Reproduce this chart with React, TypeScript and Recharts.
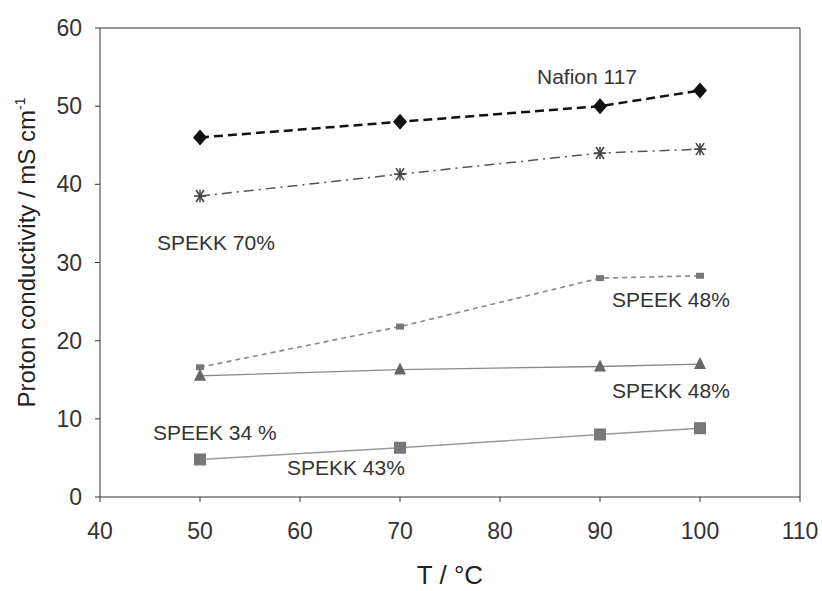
import React from "react";
import { LineChart, Line, XAxis, YAxis, ReferenceLine, ReferenceDot, Label } from "recharts";

const temps = [50, 70, 90, 100];
const nafion117 = [46, 48, 50, 52];
const spekk70 = [38.5, 41.3, 44, 44.5];
const speek48 = [16.6, 21.8, 28, 28.3];
const spekk48 = [15.5, 16.3, 16.7, 17];
const spekk43 = [4.8, 6.3, 8, 8.8];

const xTicks = [40, 50, 60, 70, 80, 90, 100, 110];
const yTicks = [0, 10, 20, 30, 40, 50, 60];

const notes = [
  { text: "Nafion 117", x: 83.7, y: 53.8 },
  { text: "SPEKK 70%", x: 45.7, y: 32.6 },
  { text: "SPEEK 48%", x: 91.2, y: 25.2 },
  { text: "SPEKK 48%", x: 91.2, y: 13.6 },
  { text: "SPEEK 34 %", x: 45.3, y: 8.2 },
  { text: "SPEKK 43%", x: 58.7, y: 3.7 },
];

const data = temps.map((t, i) => ({
  t,
  nafion: nafion117[i],
  spekk70: spekk70[i],
  speek48: speek48[i],
  spekk48: spekk48[i],
  spekk43: spekk43[i],
}));

const FONT = "'Liberation Sans', Arial, sans-serif";

const Diamond = (p: any) => (
  <path key={p.index} d={`M${p.cx},${p.cy - 8} L${p.cx + 7},${p.cy} L${p.cx},${p.cy + 8} L${p.cx - 7},${p.cy} Z`} fill="#111" />
);

const Star = (p: any) => (
  <g key={p.index} stroke="#444" strokeWidth={1.6}>
    <line x1={p.cx - 6} y1={p.cy} x2={p.cx + 6} y2={p.cy} />
    <line x1={p.cx - 4} y1={p.cy - 6} x2={p.cx + 4} y2={p.cy + 6} />
    <line x1={p.cx + 4} y1={p.cy - 6} x2={p.cx - 4} y2={p.cy + 6} />
    <line x1={p.cx} y1={p.cy - 6} x2={p.cx} y2={p.cy + 6} />
  </g>
);

const SmallSquare = (p: any) => (
  <rect key={p.index} x={p.cx - 4} y={p.cy - 3} width={8} height={6} fill="#777" />
);

const Triangle = (p: any) => (
  <path key={p.index} d={`M${p.cx},${p.cy - 7} L${p.cx + 6},${p.cy + 5} L${p.cx - 6},${p.cy + 5} Z`} fill="#666" />
);

const Square = (p: any) => (
  <rect key={p.index} x={p.cx - 6} y={p.cy - 6} width={12} height={12} fill="#777" />
);

const NoteLabel = (text: string) => (props: any) => {
  const vb = props.viewBox;
  const cx = vb.x + (vb.width || 0) / 2;
  const cy = vb.y + (vb.height || 0) / 2;
  return (
    <text x={cx} y={cy} dy="0.35em" textAnchor="start" fontSize={21} fill="#333" fontFamily={FONT}>
      {text}
    </text>
  );
};

const YTitle = (props: any) => {
  const vb = props.viewBox;
  const cy = vb.y + vb.height / 2 - 10;
  const x = 27;
  return (
    <text x={x} y={cy} transform={`rotate(-90, ${x}, ${cy})`} textAnchor="middle" dy="0.35em" fontSize={24} fill="#222" fontFamily={FONT}>
      Proton conductivity / mS cm
      <tspan dy="-10" fontSize={14}>-1</tspan>
    </text>
  );
};

export default function App() {
  const tickStyle = { fontSize: 23, fill: "#333", fontFamily: FONT };
  return (
    <div style={{ position: "absolute", left: 0, top: 0, background: "#fff" }}>
      <LineChart width={822} height={591} data={data} margin={{ top: 28, right: 22, left: 0, bottom: 0 }}>
        <XAxis
          dataKey="t"
          type="number"
          domain={[40, 110]}
          ticks={xTicks}
          height={94}
          tickSize={5}
          tickMargin={21}
          stroke="#333"
          tick={tickStyle}
        >
          <Label value="T / °C" position="insideBottom" offset={7} style={{ fontSize: 26, fill: "#222", fontFamily: FONT }} />
        </XAxis>
        <YAxis
          type="number"
          domain={[0, 60]}
          ticks={yTicks}
          width={100}
          tickSize={5}
          tickMargin={13}
          stroke="#333"
          tick={tickStyle}
        >
          <Label content={YTitle} />
        </YAxis>
        <ReferenceLine y={60} stroke="#333" strokeWidth={1} />
        <ReferenceLine x={110} stroke="#333" strokeWidth={1} />
        <Line dataKey="nafion" stroke="#111" strokeWidth={2.5} strokeDasharray="9 5" dot={Diamond} isAnimationActive={false} />
        <Line dataKey="spekk70" stroke="#555" strokeWidth={1.5} strokeDasharray="10 5 2 5" dot={Star} isAnimationActive={false} />
        <Line dataKey="speek48" stroke="#888" strokeWidth={1.6} strokeDasharray="5 4" dot={SmallSquare} isAnimationActive={false} />
        <Line dataKey="spekk48" stroke="#888" strokeWidth={1.4} dot={Triangle} isAnimationActive={false} />
        <Line dataKey="spekk43" stroke="#999" strokeWidth={1.4} dot={Square} isAnimationActive={false} />
        {notes.map((n) => (
          <ReferenceDot key={n.text} x={n.x} y={n.y} r={0} fill="none" stroke="none" label={NoteLabel(n.text)} />
        ))}
      </LineChart>
    </div>
  );
}
